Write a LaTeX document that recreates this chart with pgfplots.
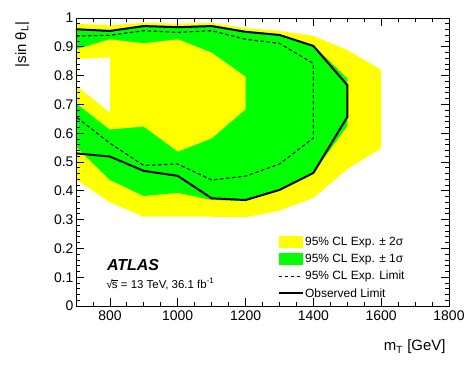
\documentclass[border=0pt]{standalone}
\usepackage{fontspec}
\setmainfont{Liberation Sans}
\usepackage{pgfplots}
\pgfplotsset{compat=1.18}
\usetikzlibrary{calc}
\definecolor{rootyellow}{RGB}{255,255,0}
\definecolor{rootgreen}{RGB}{0,255,0}
\pgfplotsset{
    boxlegend/.style={legend image code/.code={\fill[##1] (0bp,-6bp) rectangle (24bp,6bp);}},
    linelegend/.style={legend image code/.code={\draw[##1] (0bp,0bp) -- (24bp,0bp);}},
}

\begin{document}
\begin{tikzpicture}
\begin{axis}[
    name=ax, at={(0,0)}, anchor=south west,
    scale only axis, width=373bp, height=288bp,
    xmin=700, xmax=1800, ymin=0, ymax=1,
    xtick={800,1000,1200,1400,1600,1800},
    minor xtick={700,750,...,1800},
    ytick={0,0.1,0.2,0.3,0.4,0.5,0.6,0.7,0.8,0.9,1},
    minor ytick={0,0.02,...,1.001},
    tick align=inside,
    major tick length=8bp, minor tick length=4bp,
    every tick/.style={black, line width=0.8bp},
    axis line style={line width=0.8bp},
    axis on top,
    /pgf/number format/assume math mode=true,
    /pgf/number format/1000 sep={},
    tick label style={font=\fontsize{14}{14}\selectfont},
    xticklabel style={yshift=-1bp},
    yticklabel style={xshift=1bp},
    xlabel={m\textsubscript{T} [GeV]},
    ylabel={|sin θ\textsubscript{L}|},
    every axis x label/.style={at={(axis description cs:1,-0.156)}, anchor=base east, font=\fontsize{15}{15}\selectfont},
    every axis y label/.style={at={(axis description cs:-0.134,1)}, rotate=90, anchor=base east, font=\fontsize{15}{15}\selectfont},
    legend style={at={(axis description cs:0.54,0.02)}, anchor=south west, draw=none, fill=none,
        font=\fontsize{12}{12}\selectfont, row sep=4bp, inner sep=0pt, nodes={inner sep=1.5bp}},
    legend cell align=left,
]
    % +-2 sigma band (outer)
    \addplot[fill=rootyellow, draw=none, boxlegend] coordinates {
        (700,0.980) (800,0.975) (900,0.983) (1000,0.980) (1100,0.983) (1200,0.965)
        (1300,0.955) (1400,0.9375) (1500,0.889) (1600,0.820) (1600,0.548)
        (1500,0.475) (1400,0.375) (1300,0.331) (1200,0.308) (1100,0.310)
        (1000,0.310) (900,0.310) (800,0.360) (700,0.440)
    } -- cycle;
    \addlegendentry{95\% CL Exp. ± 2σ}

    % +-1 sigma band (outer)
    \addplot[fill=rootgreen, draw=none, boxlegend] coordinates {
        (700,0.963) (800,0.958) (900,0.975) (1000,0.971) (1100,0.975) (1200,0.955)
        (1300,0.944) (1400,0.905) (1500,0.790) (1500,0.625) (1400,0.462)
        (1300,0.402) (1200,0.365) (1100,0.368) (1000,0.393) (900,0.382)
        (800,0.4375) (700,0.553)
    } -- cycle;
    \addlegendentry{95\% CL Exp. ± 1σ}

    % inner edge of the 1 sigma band
    \addplot[fill=rootyellow, draw=none, forget plot] coordinates {
        (700,0.891) (800,0.926) (900,0.912) (1000,0.926) (1100,0.880) (1200,0.796)
        (1200,0.683) (1100,0.582) (1000,0.536) (900,0.623) (800,0.613) (700,0.704)
    } -- cycle;

    % inner edge of the 2 sigma band
    \addplot[fill=white, draw=none, forget plot] coordinates {
        (700,0.857) (800,0.863) (800,0.672) (700,0.767)
    } -- cycle;

    % expected limit
    \addplot[black, line width=1.1bp, dash pattern=on 3.5bp off 2.5bp, linelegend] coordinates {
        (700,0.9375) (800,0.940) (900,0.956) (1000,0.950) (1100,0.956) (1200,0.926)
        (1300,0.912) (1400,0.842) (1400,0.583) (1300,0.493) (1200,0.451)
        (1100,0.4375) (1000,0.493) (900,0.488) (800,0.565) (700,0.657)
    };
    \addlegendentry{95\% CL Exp. Limit}

    % observed limit
    \addplot[black, line width=2bp, linelegend] coordinates {
        (700,0.961) (800,0.955) (900,0.972) (1000,0.968) (1100,0.972) (1200,0.952)
        (1300,0.941) (1400,0.903) (1500,0.767) (1500,0.656) (1400,0.462)
        (1300,0.403) (1200,0.368) (1100,0.374) (1000,0.452) (900,0.469)
        (800,0.519) (700,0.530)
    };
    \addlegendentry{Observed Limit}

    \node[anchor=base west, font=\fontsize{16}{16}\selectfont\bfseries\itshape]
        at (axis description cs:0.074,0.125) {ATLAS};
    \node[anchor=base west, font=\fontsize{11.5}{11.5}\selectfont, inner sep=1bp]
        at (axis description cs:0.078,0.0625) {√\kern-0.6bp$\overline{\mbox{s}}$ = 13 TeV, 36.1 fb\textsuperscript{-1}};
\end{axis}
\pgfresetboundingbox
\path[use as bounding box] ($(ax.south west)+(-76bp,-61bp)$) rectangle ($(ax.north east)+(24bp,18bp)$);
\end{tikzpicture}
\end{document}
